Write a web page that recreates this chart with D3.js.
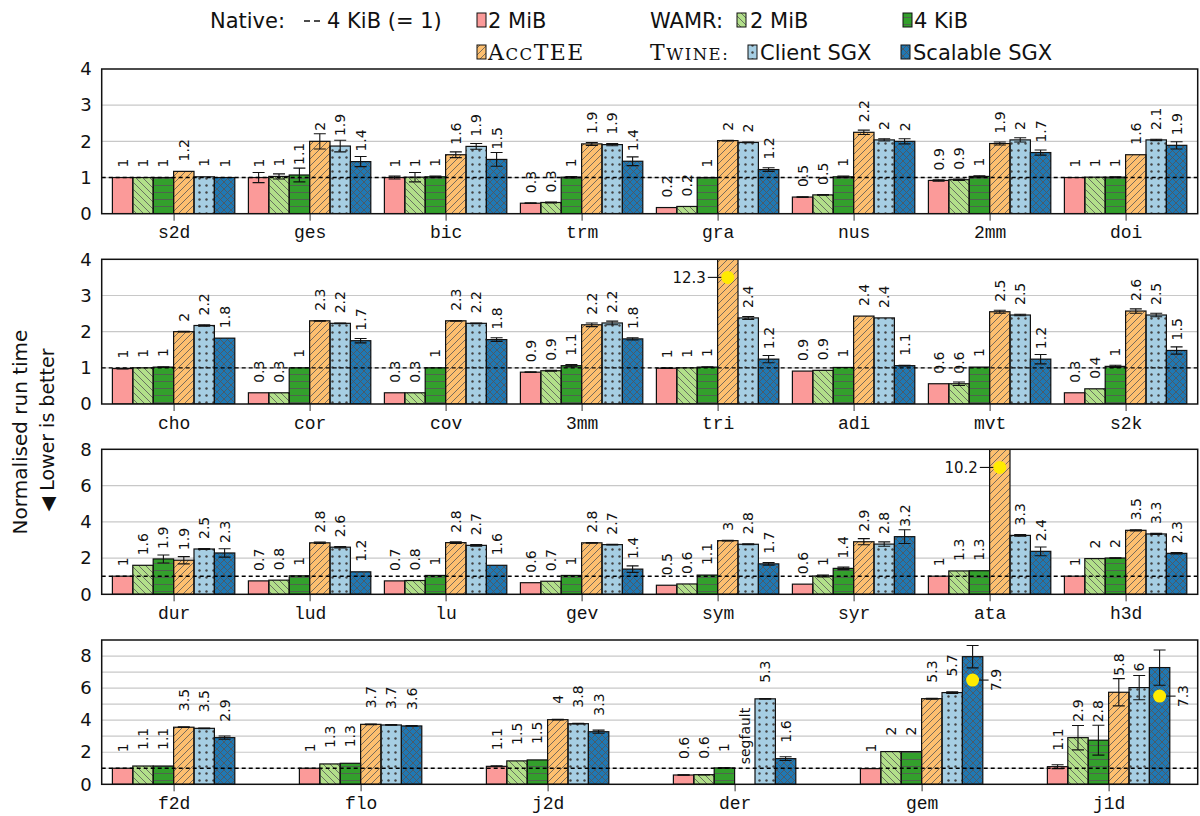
<!DOCTYPE html>
<html lang="en">
<head>
<meta charset="utf-8">
<title>Normalised run time</title>
<script src="https://cdn.jsdelivr.net/npm/d3@7"></script>
<style>
    body { margin: 0; background: #fff; }
</style>
</head>
<body>
<svg id="chart" width="1200" height="816"></svg>
<script>
// series, in drawing order inside each group
var seriesNames = ["Native 2 MiB", "WAMR 2 MiB", "WAMR 4 KiB", "AccTEE", "Twine Client SGX", "Twine Scalable SGX"];
var seriesColors = ["#fb9a99", "#b2df8a", "#33a02c", "#fdbf6f", "#a6cee3", "#1f78b4"];
var seriesPatterns = [null, "nwlines", "hlines", "nelines", "dots", "cross"];

// row 1
var cats1 = ["s2d", "ges", "bic", "trm", "gra", "nus", "2mm", "doi"];
var vals1 = [
    [1.0, 1.0, 1.0, 1.17, 1.02, 1.0],
    [1.0, 1.03, 1.07, 2.0, 1.87, 1.44],
    [1.0, 1.01, 1.02, 1.63, 1.86, 1.5],
    [0.29, 0.31, 1.01, 1.93, 1.91, 1.45],
    [0.17, 0.2, 1.0, 2.02, 1.97, 1.22],
    [0.46, 0.52, 1.02, 2.25, 2.04, 2.0],
    [0.92, 0.94, 1.03, 1.94, 2.04, 1.69],
    [1.0, 1.01, 1.01, 1.63, 2.04, 1.89]
];
var errs1 = [
    [0, 0, 0, 0, 0, 0],
    [0.14, 0.07, 0.19, 0.21, 0.16, 0.14],
    [0.04, 0.13, 0.02, 0.08, 0.08, 0.19],
    [0.01, 0.01, 0.02, 0.04, 0.03, 0.12],
    [0, 0, 0, 0.01, 0.01, 0.05],
    [0.01, 0.01, 0.02, 0.06, 0.03, 0.07],
    [0.02, 0.02, 0.02, 0.04, 0.06, 0.07],
    [0, 0, 0.01, 0, 0.02, 0.1]
];
var labels1 = [
    ["1", "1", "1", "1.2", "1", "1"],
    ["1", "1", "1.1", "2", "1.9", "1.4"],
    ["1", "1", "1", "1.6", "1.9", "1.5"],
    ["0.3", "0.3", "1", "1.9", "1.9", "1.4"],
    ["0.2", "0.2", "1", "2", "2", "1.2"],
    ["0.5", "0.5", "1", "2.2", "2", "2"],
    ["0.9", "0.9", "1", "1.9", "2", "1.7"],
    ["1", "1", "1", "1.6", "2.1", "1.9"]
];

// row 2
var cats2 = ["cho", "cor", "cov", "3mm", "tri", "adi", "mvt", "s2k"];
var vals2 = [
    [0.98, 1.0, 1.02, 2.0, 2.17, 1.82],
    [0.31, 0.31, 1.0, 2.3, 2.23, 1.75],
    [0.31, 0.31, 1.0, 2.3, 2.23, 1.78],
    [0.88, 0.92, 1.06, 2.19, 2.24, 1.8],
    [0.99, 1.0, 1.02, 12.3, 2.38, 1.24],
    [0.91, 0.93, 1.01, 2.43, 2.38, 1.06],
    [0.56, 0.56, 1.02, 2.55, 2.46, 1.24],
    [0.31, 0.42, 1.04, 2.57, 2.46, 1.48]
];
var errs2 = [
    [0.01, 0, 0.01, 0.01, 0.02, 0],
    [0, 0, 0, 0.01, 0.01, 0.06],
    [0, 0, 0, 0.01, 0.01, 0.05],
    [0.01, 0.01, 0.03, 0.05, 0.05, 0.03],
    [0.01, 0, 0.01, 0, 0.04, 0.1],
    [0, 0, 0, 0, 0, 0.01],
    [0, 0.05, 0, 0.04, 0.02, 0.13],
    [0, 0, 0.03, 0.06, 0.05, 0.1]
];
var labels2 = [
    ["1", "1", "1", "2", "2.2", "1.8"],
    ["0.3", "0.3", "1", "2.3", "2.2", "1.7"],
    ["0.3", "0.3", "1", "2.3", "2.2", "1.8"],
    ["0.9", "0.9", "1.1", "2.2", "2.2", "1.8"],
    ["1", "1", "1", "12.3", "2.4", "1.2"],
    ["0.9", "0.9", "1", "2.4", "2.4", "1.1"],
    ["0.6", "0.6", "1", "2.5", "2.5", "1.2"],
    ["0.3", "0.4", "1", "2.6", "2.5", "1.5"]
];

// row 3
var cats3 = ["dur", "lud", "lu", "gev", "sym", "syr", "ata", "h3d"];
var vals3 = [
    [1.0, 1.6, 1.95, 1.88, 2.5, 2.28],
    [0.74, 0.78, 1.02, 2.84, 2.6, 1.24],
    [0.74, 0.76, 1.04, 2.85, 2.7, 1.6],
    [0.64, 0.72, 1.04, 2.84, 2.74, 1.39],
    [0.5, 0.57, 1.06, 2.96, 2.76, 1.68],
    [0.56, 1.01, 1.43, 2.9, 2.77, 3.18],
    [1.0, 1.29, 1.3, 10.2, 3.25, 2.37],
    [1.0, 1.97, 2.0, 3.53, 3.33, 2.26]
];
var errs3 = [
    [0, 0, 0.22, 0.2, 0.03, 0.23],
    [0, 0, 0, 0.04, 0.04, 0],
    [0, 0, 0, 0.04, 0.04, 0],
    [0, 0, 0, 0.02, 0.02, 0.18],
    [0, 0, 0, 0.02, 0.02, 0.07],
    [0, 0.05, 0.07, 0.17, 0.12, 0.38],
    [0, 0, 0, 0, 0.05, 0.24],
    [0, 0, 0.02, 0.03, 0.03, 0.04]
];
var labels3 = [
    ["1", "1.6", "1.9", "1.9", "2.5", "2.3"],
    ["0.7", "0.8", "1", "2.8", "2.6", "1.2"],
    ["0.7", "0.8", "1", "2.8", "2.7", "1.6"],
    ["0.6", "0.7", "1", "2.8", "2.7", "1.4"],
    ["0.5", "0.6", "1.1", "3", "2.8", "1.7"],
    ["0.6", "1", "1.4", "2.9", "2.8", "3.2"],
    ["1", "1.3", "1.3", "10.2", "3.3", "2.4"],
    ["1", "2", "2", "3.5", "3.3", "2.3"]
];

// row 4 (der has no AccTEE bar: segfault)
var cats4 = ["f2d", "flo", "j2d", "der", "gem", "j1d"];
var vals4 = [
    [1.0, 1.14, 1.14, 3.56, 3.49, 2.91],
    [1.0, 1.27, 1.31, 3.74, 3.7, 3.64],
    [1.12, 1.46, 1.52, 4.03, 3.78, 3.28],
    [0.58, 0.6, 1.02, null, 5.33, 1.6],
    [0.98, 2.04, 2.04, 5.34, 5.72, 7.96],
    [1.1, 2.91, 2.75, 5.74, 6.03, 7.28]
];
var errs4 = [
    [0, 0, 0, 0.02, 0.02, 0.1],
    [0, 0, 0, 0.02, 0.02, 0.02],
    [0.03, 0, 0, 0.02, 0.02, 0.1],
    [0.01, 0.01, 0.01, 0, 0.02, 0.12],
    [0, 0, 0, 0.03, 0.05, 0.7],
    [0.12, 0.76, 0.93, 0.85, 0.76, 1.1]
];
var labels4 = [
    ["1", "1.1", "1.1", "3.5", "3.5", "2.9"],
    ["1", "1.3", "1.3", "3.7", "3.7", "3.6"],
    ["1.1", "1.5", "1.5", "4", "3.8", "3.3"],
    ["0.6", "0.6", "1", "segfault", "5.3", "1.6"],
    ["1", "2", "2", "5.3", "5.7", "7.9"],
    ["1.1", "2.9", "2.8", "5.8", "6", "7.3"]
];

// labels that are moved next to a yellow marker
var callouts = [
    {row: 1, cat: "tri", s: 3, at: 3.5, side: "left"},
    {row: 2, cat: "ata", s: 3, at: 7.0, side: "left"},
    {row: 3, cat: "gem", s: 5, at: 6.5, side: "right"},
    {row: 3, cat: "j1d", s: 5, at: 5.5, side: "right"}
];

var rows = [
    {cats: cats1, vals: vals1, errs: errs1, labels: labels1, top: 69, bottom: 213.7, max: 4, ticks: [0, 1, 2, 3, 4], grid: [1, 2, 3], step: 136, gap: 10},
    {cats: cats2, vals: vals2, errs: errs2, labels: labels2, top: 259.3, bottom: 404, max: 4, ticks: [0, 1, 2, 3, 4], grid: [1, 2, 3], step: 136, gap: 10},
    {cats: cats3, vals: vals3, errs: errs3, labels: labels3, top: 449.3, bottom: 594.3, max: 8, ticks: [0, 2, 4, 6, 8], grid: [2, 4, 6], step: 136, gap: 10},
    {cats: cats4, vals: vals4, errs: errs4, labels: labels4, top: 640, bottom: 784.3, max: 9, ticks: [0, 2, 4, 6, 8], grid: [1, 2, 3, 4, 5, 6, 7, 8], step: 187, gap: 16}
];

var LEFT = 101.7, RIGHT = 1197.7, FIRST = 173.6, BARW = 20.4;
var SANS = "'DejaVu Sans', sans-serif";
var SERIF = "'DejaVu Serif', serif";
var MONO = "'Liberation Mono', monospace";
var HATCH = "#555";

var svg = d3.select("#chart");
var defs = svg.append("defs");

// hatch patterns
function pat(id) {
    return defs.append("pattern").attr("id", id)
        .attr("patternUnits", "userSpaceOnUse").attr("width", 7).attr("height", 7);
}
pat("nwlines").append("path").attr("d", "M-1,-1L8,8M-1,6L1,8M6,-1L8,1")
    .attr("stroke", HATCH).attr("stroke-width", 0.8);
pat("nelines").append("path").attr("d", "M-1,8L8,-1M-1,1L1,-1M6,8L8,6")
    .attr("stroke", HATCH).attr("stroke-width", 0.8);
pat("hlines").append("path").attr("d", "M0,3.5L7,3.5")
    .attr("stroke", HATCH).attr("stroke-width", 0.8);
pat("dots").append("circle").attr("cx", 3.5).attr("cy", 3.5).attr("r", 1.2)
    .attr("fill", "#444");
pat("cross").append("path").attr("d", "M-1,-1L8,8M-1,8L8,-1")
    .attr("stroke", HATCH).attr("stroke-width", 0.8);

var inner = d3.scaleBand().domain(d3.range(6)).range([-3 * BARW, 3 * BARW]);

rows.forEach(function (row, r) {
    var g = svg.append("g");
    var n = row.cats.length;
    var x = d3.scalePoint().domain(row.cats).range([FIRST, FIRST + (n - 1) * row.step]);
    var y = d3.scaleLinear().domain([0, row.max]).range([row.bottom, row.top]);

    defs.append("clipPath").attr("id", "clip" + r).append("rect")
        .attr("x", LEFT).attr("y", row.top).attr("width", RIGHT - LEFT).attr("height", row.bottom - row.top);

    // grid
    g.selectAll(".grid").data(row.grid).enter().append("line")
        .attr("x1", LEFT).attr("x2", RIGHT)
        .attr("y1", function (d) { return y(d); }).attr("y2", function (d) { return y(d); })
        .attr("stroke", "#c8c8c8").attr("stroke-width", 1.2);

    // y axis labels
    var yAxis = d3.axisLeft(y).tickValues(row.ticks).tickFormat(d3.format("d")).tickSize(0).tickPadding(10);
    var ya = g.append("g").attr("transform", "translate(" + LEFT + ",0)").call(yAxis);
    ya.select(".domain").remove();
    ya.selectAll("text").attr("font-family", SANS).attr("font-size", 18).attr("fill", "#111");

    // x axis: ticks + category names
    var xAxis = d3.axisBottom(x).tickSize(7).tickPadding(5);
    var xa = g.append("g").attr("transform", "translate(0," + row.bottom + ")").call(xAxis);
    xa.select(".domain").remove();
    xa.selectAll("line").attr("stroke", "#333");
    xa.selectAll("text").attr("font-family", MONO).attr("font-size", 18).attr("fill", "#111");

    var bars = g.append("g").attr("clip-path", "url(#clip" + r + ")");
    var items = [];
    row.cats.forEach(function (c, i) {
        row.vals[i].forEach(function (v, s) {
            items.push({cat: c, s: s, v: v, e: row.errs[i][s], label: row.labels[i][s]});
        });
    });
    var real = items.filter(function (d) { return d.v !== null; });
    function bx(d) { return x(d.cat) + inner(d.s); }

    bars.selectAll(".base").data(real).enter().append("rect")
        .attr("x", bx).attr("width", BARW)
        .attr("y", function (d) { return y(d.v); })
        .attr("height", function (d) { return y(0) - y(d.v); })
        .attr("fill", function (d) { return seriesColors[d.s]; });
    bars.selectAll(".pat").data(real).enter().append("rect")
        .attr("x", bx).attr("width", BARW)
        .attr("y", function (d) { return y(d.v); })
        .attr("height", function (d) { return y(0) - y(d.v); })
        .attr("fill", function (d) { return seriesPatterns[d.s] ? "url(#" + seriesPatterns[d.s] + ")" : "none"; })
        .attr("stroke", "#111").attr("stroke-width", 1.2);

    // error bars
    var eb = bars.selectAll(".err").data(real.filter(function (d) { return d.e > 0; })).enter().append("g")
        .attr("stroke", "#111").attr("stroke-width", 1.1);
    eb.append("line")
        .attr("x1", function (d) { return bx(d) + BARW / 2; }).attr("x2", function (d) { return bx(d) + BARW / 2; })
        .attr("y1", function (d) { return y(d.v - d.e); }).attr("y2", function (d) { return y(d.v + d.e); });
    [-1, 1].forEach(function (sign) {
        eb.append("line")
            .attr("x1", function (d) { return bx(d) + BARW / 2 - 6; }).attr("x2", function (d) { return bx(d) + BARW / 2 + 6; })
            .attr("y1", function (d) { return y(d.v + sign * d.e); }).attr("y2", function (d) { return y(d.v + sign * d.e); });
    });

    // dashed native baseline
    g.append("line").attr("x1", LEFT).attr("x2", RIGHT).attr("y1", y(1)).attr("y2", y(1))
        .attr("stroke", "#000").attr("stroke-width", 1.4).attr("stroke-dasharray", "4,3");

    // frame
    g.append("rect").attr("x", LEFT).attr("y", row.top).attr("width", RIGHT - LEFT).attr("height", row.bottom - row.top)
        .attr("fill", "none").attr("stroke", "#111").attr("stroke-width", 1.5);

    // value labels
    var rc = callouts.filter(function (c) { return c.row === r; });
    var plain = items.filter(function (d) {
        return !rc.some(function (c) { return c.cat === d.cat && c.s === d.s; });
    });
    g.selectAll(".vl").data(plain).enter().append("text")
        .attr("transform", function (d) {
            var v = d.v === null ? 0 : d.v;
            var yy = Math.min(y(v) - row.gap, y(v + d.e) - 3);
            if (d.v === null) yy = y(0) - 20;
            return "translate(" + (bx(d) + BARW / 2) + "," + yy + ") rotate(-90)";
        })
        .attr("dy", "0.36em")
        .attr("font-family", SANS).attr("font-size", 14).attr("fill", "#111")
        .text(function (d) { return d.label; });

    // yellow callouts
    rc.forEach(function (c) {
        var i = row.cats.indexOf(c.cat);
        var cx = x(c.cat) + inner(c.s) + BARW / 2, cy = y(c.at);
        var txt = row.labels[i][c.s];
        if (c.side === "left") {
            g.append("line").attr("x1", cx - 20).attr("x2", cx).attr("y1", cy).attr("y2", cy)
                .attr("stroke", "#111").attr("stroke-width", 1.1);
            g.append("circle").attr("cx", cx).attr("cy", cy).attr("r", 6.5).attr("fill", "#ffeb00");
            g.append("text").attr("x", cx - 22).attr("y", cy).attr("dy", "0.36em")
                .attr("text-anchor", "end").attr("font-family", SANS).attr("font-size", 15).attr("fill", "#111")
                .text(txt);
        } else {
            g.append("line").attr("x1", cx).attr("x2", cx + 16).attr("y1", cy).attr("y2", cy)
                .attr("stroke", "#111").attr("stroke-width", 1.1);
            g.append("circle").attr("cx", cx).attr("cy", cy).attr("r", 6.5).attr("fill", "#ffeb00");
            g.append("text").attr("transform", "translate(" + (cx + 23) + "," + cy + ") rotate(-90)")
                .attr("dy", "0.36em").attr("text-anchor", "middle")
                .attr("font-family", SANS).attr("font-size", 14).attr("fill", "#111")
                .text(txt);
        }
    });
});

// axis title
svg.append("text").attr("transform", "translate(20,432) rotate(-90)")
    .attr("dy", "0.36em").attr("text-anchor", "middle")
    .attr("font-family", SANS).attr("font-size", 20).attr("fill", "#111")
    .text("Normalised run time");
svg.append("text").attr("transform", "translate(47,430) rotate(-90)")
    .attr("dy", "0.36em").attr("text-anchor", "middle")
    .attr("font-family", SANS).attr("font-size", 19).attr("fill", "#111")
    .text("\u25C0 Lower is better");

// legend
var lg = svg.append("g").attr("font-family", SANS).attr("font-size", 21).attr("fill", "#111");
function legText(x0, y0, t, anchor) {
    return lg.append("text").attr("x", x0).attr("y", y0).attr("dy", "0.36em")
        .attr("text-anchor", anchor || "start").text(t);
}
// small caps written out: full-size capital, then smaller capitals
function legCaps(x0, y0, first, rest) {
    var t = lg.append("text").attr("x", x0).attr("y", y0).attr("dy", "0.36em")
        .attr("font-family", SERIF).attr("letter-spacing", 1.5);
    t.append("tspan").attr("font-size", 22).text(first);
    t.append("tspan").attr("font-size", 16.5).text(rest);
    return t;
}
function legSwatch(x0, y0, s) {
    lg.append("rect").attr("x", x0).attr("y", y0 - 7).attr("width", 9).attr("height", 14)
        .attr("fill", seriesColors[s]);
    lg.append("rect").attr("x", x0).attr("y", y0 - 7).attr("width", 9).attr("height", 14)
        .attr("fill", seriesPatterns[s] ? "url(#" + seriesPatterns[s] + ")" : "none")
        .attr("stroke", "#111").attr("stroke-width", 1);
}
legText(285, 20, "Native:", "end");
lg.append("line").attr("x1", 304).attr("x2", 320).attr("y1", 21).attr("y2", 21)
    .attr("stroke", "#111").attr("stroke-width", 1.5).attr("stroke-dasharray", "6,4");
legText(327, 20, "4 KiB (= 1)");
legSwatch(477, 20, 0); legText(488, 20, "2 MiB");
legText(650, 20, "WAMR:");
legSwatch(737, 20, 1); legText(750, 20, "2 MiB");
legSwatch(903, 20, 2); legText(914, 20, "4 KiB");
legSwatch(477, 52, 3);
var acc = legCaps(488, 52, "A", "CC");
acc.append("tspan").attr("font-size", 22).text("TEE");
legCaps(650, 52, "T", "WINE:");
legSwatch(748, 52, 4); legText(760, 52, "Client SGX");
legSwatch(901, 52, 5); legText(913, 52, "Scalable SGX");
</script>
</body>
</html>
